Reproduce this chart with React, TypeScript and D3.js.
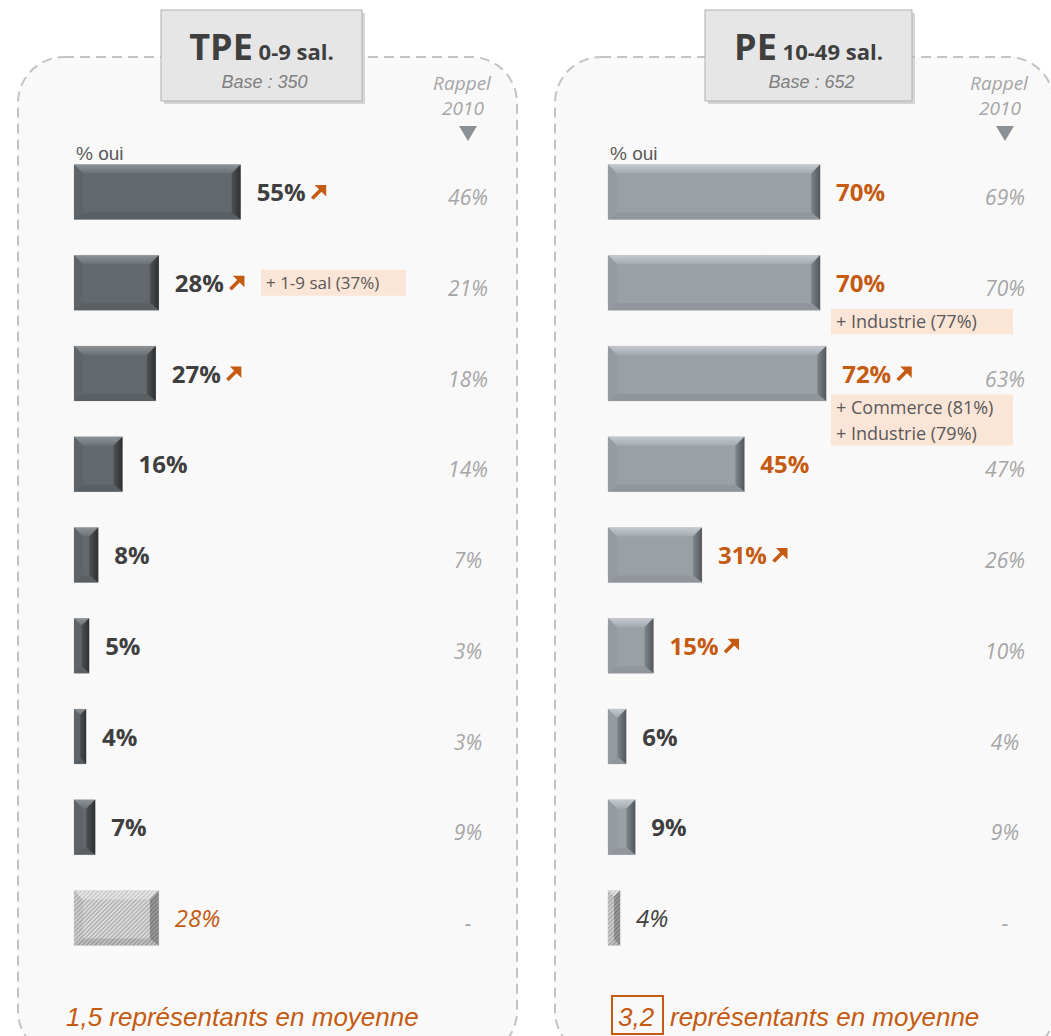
import * as d3 from "d3";

// rows: 9 categories (unnamed in the picture), last one is the hatched "autre" row
const rowIds = [0, 1, 2, 3, 4, 5, 6, 7, 8];

const tpeValues = [55, 28, 27, 16, 8, 5, 4, 7, 28];
const tpeRappel = ["46%", "21%", "18%", "14%", "7%", "3%", "3%", "9%", "-"];
const tpeUp = [true, true, true, false, false, false, false, false, false];
const tpeOrange = [false, false, false, false, false, false, false, false, true];

const peValues = [70, 70, 72, 45, 31, 15, 6, 9, 4];
const peRappel = ["69%", "70%", "63%", "47%", "26%", "10%", "4%", "9%", "-"];
const peUp = [false, false, true, false, true, true, false, false, false];
const peOrange = [true, true, true, true, true, true, false, false, false];

const tpeNotes = [{ row: 1, lines: ["+ 1-9 sal (37%)"] }];
const peNotes = [
  { row: 1, lines: ["+ Industrie (77%)"] },
  { row: 2, lines: ["+ Commerce (81%)", "+ Industrie (79%)"] },
];

const ORANGE = "#c55a11";
const DARK = "#3f3f3f";
const GREY = "#a6a6a6";
const NOTE_BG = "#fbe5d6";

const canvas = document.createElement("canvas");
const textWidth = (t: string, font: string) => {
  const ctx = canvas.getContext("2d")!;
  ctx.font = font;
  return ctx.measureText(t).width;
};

type Scheme = { main: string; topA: string; topB: string; left: string; rightA: string; rightB: string; bottom: string };
const darkScheme: Scheme = {
  main: "#63686c",
  topA: "#8d9296",
  topB: "#6c7175",
  left: "#5f6468",
  rightA: "#4d5155",
  rightB: "#2e3133",
  bottom: "#5a5f63",
};
const lightScheme: Scheme = {
  main: "#9aa0a6",
  topA: "#c4c9ce",
  topB: "#a3a9af",
  left: "#959ba1",
  rightA: "#80868c",
  rightB: "#52575c",
  bottom: "#90969c",
};

function Bar({ x, y, w, h, s, id, hatched }: { x: number; y: number; w: number; h: number; s: Scheme; id: string; hatched?: boolean }) {
  const b = Math.min(9, w / 2);
  const bb = Math.min(7, w / 2);
  return (
    <g>
      <rect x={x} y={y} width={w} height={h} fill={hatched ? "url(#hatch)" : s.main} stroke="#d4d4d4" strokeWidth={0.6} />
      <polygon
        points={`${x},${y} ${x + w},${y} ${x + w - b},${y + b} ${x + b},${y + b}`}
        fill={hatched ? "#ffffff" : `url(#top-${id})`}
        opacity={hatched ? 0.3 : 1}
      />
      <polygon
        points={`${x},${y} ${x + b},${y + b} ${x + b},${y + h - bb} ${x},${y + h}`}
        fill={hatched ? "#000" : s.left}
        opacity={hatched ? 0.05 : 1}
      />
      <polygon
        points={`${x + w},${y} ${x + w},${y + h} ${x + w - b},${y + h - bb} ${x + w - b},${y + b}`}
        fill={hatched ? "#000" : `url(#right-${id})`}
        opacity={hatched ? 0.3 : 1}
      />
      <polygon
        points={`${x},${y + h} ${x + w},${y + h} ${x + w - b},${y + h - bb} ${x + b},${y + h - bb}`}
        fill={hatched ? "#000" : s.bottom}
        opacity={hatched ? 0.12 : 1}
      />
    </g>
  );
}

function Arrow({ x, cy }: { x: number; cy: number }) {
  return (
    <g transform={`translate(${x},${cy - 8})`}>
      <line x1={1.5} y1={14.5} x2={11} y2={5} stroke={ORANGE} strokeWidth={3.6} />
      <polygon points="4,1 15.5,1 15.5,12.5" fill={ORANGE} />
    </g>
  );
}

const xScale = d3.scaleLinear().domain([0, 100]).range([0, 303]);
const yScale = d3.scalePoint<number>().domain(rowIds).range([192, 918]);
const BAR_H = 55;

type PanelProps = {
  id: string;
  px: number;
  barX: number;
  rappelX: number;
  boxX: number;
  boxW: number;
  title: string;
  sub: string;
  base: string;
  values: number[];
  rappel: string[];
  up: boolean[];
  orange: boolean[];
  notes: { row: number; lines: string[] }[];
  scheme: Scheme;
};

function Panel(p: PanelProps) {
  const labelFont = "bold 24px 'Open Sans'";
  const boxCx = p.boxX + p.boxW / 2;
  const titleW = textWidth(p.title, "bold 36px 'Open Sans'") + textWidth(" " + p.sub, "bold 22px 'Open Sans'");
  return (
    <g>
      <rect x={p.px} y={57} width={499} height={1000} rx={46} fill="#f9f9f9" stroke="#c3c3c3" strokeWidth={2} strokeDasharray="10 6" />
      {/* header box */}
      <rect x={p.boxX + 3} y={13} width={p.boxW} height={91} fill="#bdbdbd" opacity={0.6} />
      <rect x={p.boxX} y={10} width={p.boxW} height={91} fill="#e6e6e6" stroke="#b0b0b0" strokeWidth={1} />
      <text x={boxCx - titleW / 2} y={60} fontFamily="'Open Sans'" fontWeight="bold" fill={DARK}>
        <tspan fontSize={36}>{p.title}</tspan>
        <tspan fontSize={22}>{" " + p.sub}</tspan>
      </text>
      <text x={boxCx + 3} y={88} textAnchor="middle" fontFamily="'Liberation Sans', Arial" fontStyle="italic" fontSize={18} fill="#7f7f7f">
        {p.base}
      </text>
      {/* rappel header */}
      <text x={p.rappelX - 6} y={90} textAnchor="middle" fontFamily="'Open Sans'" fontStyle="italic" fontSize={19} fill={GREY}>
        Rappel
      </text>
      <text x={p.rappelX - 5} y={115} textAnchor="middle" fontFamily="'Open Sans'" fontStyle="italic" fontSize={19} fill={GREY}>
        2010
      </text>
      <polygon points={`${p.rappelX - 9},126 ${p.rappelX + 9},126 ${p.rappelX},141`} fill="#8c9196" />
      <text x={p.barX + 2} y={160} fontFamily="'Liberation Sans', Arial" fontSize={19} fill="#595959">
        % oui
      </text>
      {p.notes.map((n) => {
        const cy = yScale(n.row)!;
        if (p.id === "tpe") {
          return (
            <g key={n.row}>
              <rect x={261} y={cy - 13} width={145} height={26} fill={NOTE_BG} />
              <text x={266} y={cy + 6} fontFamily="'Open Sans'" fontSize={17} fill="#595959">
                {n.lines[0]}
              </text>
            </g>
          );
        }
        const top = n.lines.length > 1 ? cy + 21 : cy + 26;
        return (
          <g key={n.row}>
            <rect x={p.barX + 223} y={top} width={182} height={n.lines.length * 25.5} fill={NOTE_BG} />
            {n.lines.map((l, i) => (
              <text key={i} x={p.barX + 228} y={top + 19 + i * 26} fontFamily="'Open Sans'" fontSize={18} fill="#595959">
                {l}
              </text>
            ))}
          </g>
        );
      })}
      {rowIds.map((i) => {
        const cy = yScale(i)!;
        const w = xScale(p.values[i]);
        const hatched = i === rowIds.length - 1;
        const label = p.values[i] + "%";
        const lx = p.barX + w + 16;
        const font = hatched ? "italic 24px 'Open Sans'" : labelFont;
        const lw = textWidth(label, font);
        return (
          <g key={i}>
            <Bar x={p.barX} y={cy - BAR_H / 2} w={w} h={BAR_H} s={p.scheme} id={p.id} hatched={hatched} />
            <text
              x={lx}
              y={cy + 9}
              fontFamily="'Open Sans'"
              fontWeight={hatched ? "normal" : "bold"}
              fontStyle={hatched ? "italic" : "normal"}
              fontSize={24}
              fill={p.orange[i] ? ORANGE : DARK}
            >
              {label}
            </text>
            {p.up[i] && <Arrow x={lx + lw + 5} cy={cy} />}
            <text x={p.rappelX} y={cy + 13} textAnchor="middle" fontFamily="'Open Sans'" fontStyle="italic" fontSize={21} fill={GREY}>
              {p.rappel[i]}
            </text>
          </g>
        );
      })}
    </g>
  );
}

export default function App() {
  return (
    <svg width={1051} height={1036} style={{ position: "absolute", left: 0, top: 0, background: "#ffffff" }}>
      <defs>
        <linearGradient id="top-tpe" x1="0" y1="0" x2="0" y2="1">
          <stop offset="0" stopColor={darkScheme.topA} />
          <stop offset="1" stopColor={darkScheme.topB} />
        </linearGradient>
        <linearGradient id="top-pe" x1="0" y1="0" x2="0" y2="1">
          <stop offset="0" stopColor={lightScheme.topA} />
          <stop offset="1" stopColor={lightScheme.topB} />
        </linearGradient>
        <linearGradient id="right-tpe" x1="0" y1="0" x2="1" y2="0">
          <stop offset="0" stopColor={darkScheme.rightA} />
          <stop offset="1" stopColor={darkScheme.rightB} />
        </linearGradient>
        <linearGradient id="right-pe" x1="0" y1="0" x2="1" y2="0">
          <stop offset="0" stopColor={lightScheme.rightA} />
          <stop offset="1" stopColor={lightScheme.rightB} />
        </linearGradient>
        <pattern id="hatch" width={3} height={3} patternUnits="userSpaceOnUse" patternTransform="rotate(45)">
          <rect width={3} height={3} fill="#d9d9d9" />
          <line x1={0} y1={0} x2={0} y2={3} stroke="#7a7a7a" strokeWidth={1.1} />
        </pattern>
      </defs>
      <Panel
        id="tpe"
        px={18}
        barX={74}
        rappelX={468}
        boxX={161}
        boxW={201}
        title="TPE"
        sub="0-9 sal."
        base="Base : 350"
        values={tpeValues}
        rappel={tpeRappel}
        up={tpeUp}
        orange={tpeOrange}
        notes={tpeNotes}
        scheme={darkScheme}
      />
      <Panel
        id="pe"
        px={555}
        barX={608}
        rappelX={1005}
        boxX={705}
        boxW={207}
        title="PE"
        sub="10-49 sal."
        base="Base : 652"
        values={peValues}
        rappel={peRappel}
        up={peUp}
        orange={peOrange}
        notes={peNotes}
        scheme={lightScheme}
      />
      <text x={66} y={1026} fontFamily="'Liberation Sans', Arial" fontStyle="italic" fontSize={26} fill={ORANGE}>
        1,5 représentants en moyenne
      </text>
      <rect x={612} y={996} width={51} height={38} fill="none" stroke={ORANGE} strokeWidth={2} />
      <text x={618} y={1026} fontFamily="'Liberation Sans', Arial" fontStyle="italic" fontSize={26} fill={ORANGE}>
        3,2
      </text>
      <text x={670} y={1026} fontFamily="'Liberation Sans', Arial" fontStyle="italic" fontSize={26} fill={ORANGE}>
        représentants en moyenne
      </text>
    </svg>
  );
}
